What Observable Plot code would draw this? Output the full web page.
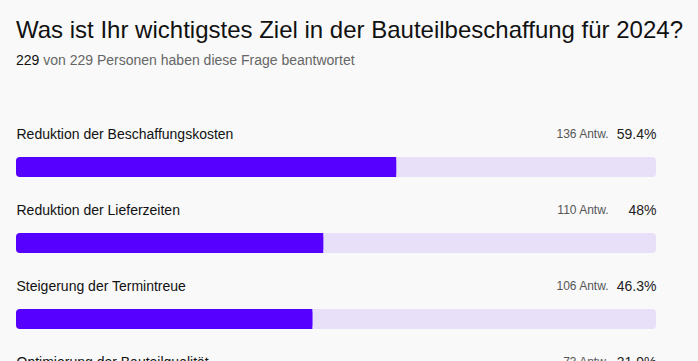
<!DOCTYPE html>
<html>
<head>
<meta charset="utf-8">
<script src="https://cdn.jsdelivr.net/npm/d3@7"></script>
<script src="https://cdn.jsdelivr.net/npm/@observablehq/plot@0.6"></script>
<style>
  html, body { margin: 0; padding: 0; background: #f9f9f9; overflow: hidden; }
  body { width: 698px; height: 361px; font-family: "Liberation Sans", Arial, Helvetica, sans-serif; }
  #header { height: 80px; position: relative; }
  #title { position: absolute; left: 16px; top: 15px; font-size: 24px; line-height: 30px; color: #111; white-space: nowrap; }
  #subtitle { position: absolute; left: 16px; top: 51px; font-size: 14px; line-height: 18px; color: #666; white-space: nowrap; }
  #subtitle b { font-weight: normal; color: #111; }
  #chart svg { display: block; overflow: visible; background: transparent; }
</style>
</head>
<body>
<div id="header">
  <div id="title">Was ist Ihr wichtigstes Ziel in der Bauteilbeschaffung für 2024?</div>
  <div id="subtitle"><b>229</b> von 229 Personen haben diese Frage beantwortet</div>
</div>
<div id="chart"></div>
<script>
const categories = [
  "Reduktion der Beschaffungskosten",
  "Reduktion der Lieferzeiten",
  "Steigerung der Termintreue",
  "Optimierung der Bauteilqualität"
];
const answers = [136, 110, 106, 73];
const percents = [59.4, 48, 46.3, 31.9];
const total = 229;

const data = categories.map((c, i) => ({
  category: c,
  count: answers[i],
  pct: percents[i],
  countLabel: `${answers[i]} Antw.`,
  pctLabel: `${percents[i]}%`
}));

const chart = Plot.plot({
  width: 698,
  height: 281,
  marginLeft: 16,
  marginRight: 42,
  marginTop: 0,
  marginBottom: 0,
  style: { background: "transparent", fontFamily: "'Liberation Sans', Arial, Helvetica, sans-serif" },
  x: { domain: [0, 100], axis: null },
  y: { type: "band", domain: categories, range: [77, 325], paddingInner: 56 / 76, paddingOuter: 0, axis: null },
  marks: [
    Plot.barX(data, { y: "category", x1: 0, x2: 100, fill: "#e8e0f8", rx: 4 }),
    Plot.barX(data, { y: "category", x1: 0, x2: "pct", fill: "#5600ff", rx: 4 }),
    Plot.barX(data, { y: "category", x1: d => d.pct / 2, x2: "pct", fill: "#5600ff" }),
    Plot.text(data, { y: "category", x: 0, text: "category", textAnchor: "start", dy: -33, fontSize: 14, fill: "#111" }),
    Plot.text(data, { y: "category", x: 100, text: "pctLabel", textAnchor: "end", dy: -33, fontSize: 14, fill: "#222" }),
    Plot.text(data, { y: "category", x: 100, text: "countLabel", textAnchor: "end", dx: -48, dy: -33, fontSize: 12, fill: "#555" })
  ]
});
document.getElementById("chart").appendChild(chart);
</script>
</body>
</html>
